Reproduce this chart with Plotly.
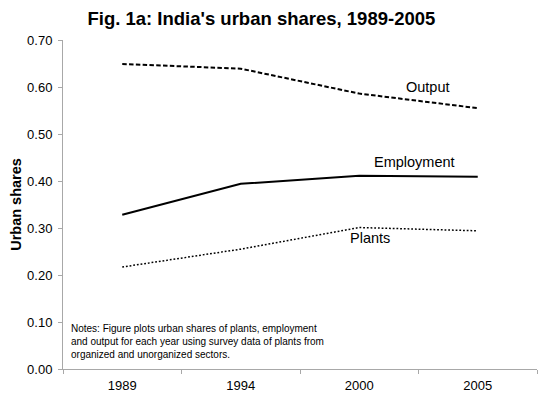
import plotly.graph_objects as go

years = ["1989", "1994", "2000", "2005"]
output = [0.649, 0.639, 0.586, 0.555]
employment = [0.328, 0.394, 0.411, 0.409]
plants = [0.217, 0.255, 0.301, 0.294]
y_ticks = [0.0, 0.1, 0.2, 0.3, 0.4, 0.5, 0.6, 0.7]

FONT = "Liberation Sans, Arial, sans-serif"

fig = go.Figure()
fig.add_trace(go.Scatter(x=years, y=output, mode="lines", name="Output",
                         line=dict(color="black", width=2, dash="4.5px,2.3px")))
fig.add_trace(go.Scatter(x=years, y=employment, mode="lines", name="Employment",
                         line=dict(color="black", width=2)))
fig.add_trace(go.Scatter(x=years, y=plants, mode="lines", name="Plants",
                         line=dict(color="black", width=1.5, dash="1.8px,1.9px")))

annots = [
    dict(x=2.58, y=0.600, text="Output"),
    dict(x=2.47, y=0.440, text="Employment"),
    dict(x=2.09, y=0.279, text="Plants"),
]
for a in annots:
    fig.add_annotation(x=a["x"], y=a["y"], text=a["text"], showarrow=False,
                       xref="x", yref="y", font=dict(family=FONT, size=14.5, color="black"))

fig.add_annotation(
    x=0.012, y=0.145, xref="paper", yref="paper", xanchor="left", yanchor="top",
    align="left", showarrow=False,
    text="Notes: Figure plots urban shares of plants, employment<br>and output for each year using survey data of plants from<br>organized and unorganized sectors.",
    font=dict(family=FONT, size=10, color="black"),
)

fig.update_layout(
    width=538, height=388,
    margin=dict(l=55, r=9, t=32, b=27, autoexpand=False),
    paper_bgcolor="white", plot_bgcolor="white",
    showlegend=False,
    title=dict(text="<b>Fig. 1a: India's urban shares, 1989-2005</b>", x=0.471, xanchor="center",
               y=0.974, yanchor="middle",
               font=dict(family=FONT, size=18.5, color="black")),
    font=dict(family=FONT, size=13, color="black"),
)
fig.update_xaxes(type="category", range=[-0.5, 3.5], tickson="boundaries", automargin=False,
                 ticks="outside", ticklen=4, tickcolor="#a8a8a8",
                 showline=True, linecolor="#a8a8a8", linewidth=1,
                 showgrid=False, ticklabelstandoff=4,
                 tickfont=dict(family=FONT, size=13, color="black"))
fig.update_yaxes(range=[0, 0.7], tickvals=y_ticks, tickformat=".2f", automargin=False,
                 ticks="outside", ticklen=4, tickcolor="#a8a8a8",
                 showline=True, linecolor="#a8a8a8", linewidth=1,
                 showgrid=False, zeroline=False, ticklabelstandoff=3,
                 title=dict(text="<b>Urban shares</b>", font=dict(family=FONT, size=14.5, color="black"), standoff=6),
                 tickfont=dict(family=FONT, size=13, color="black"))

fig.write_html("out.html")
